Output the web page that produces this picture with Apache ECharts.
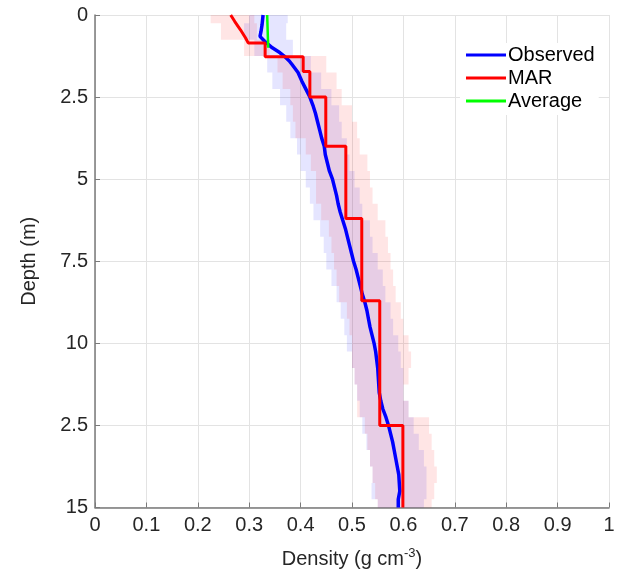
<!DOCTYPE html>
<html>
<head>
<meta charset="utf-8">
<script src="https://cdn.jsdelivr.net/npm/echarts@6/dist/echarts.min.js"></script>
<style>html,body{margin:0;padding:0;background:#fff;}#chart{width:622px;height:574px;}</style>
</head>
<body>
<div id="chart"></div>
<script>
// ---- Data ----
var xTickLabels = ['0','0.1','0.2','0.3','0.4','0.5','0.6','0.7','0.8','0.9','1'];
var yTickLabels = ['0','2.5','5','7.5','10','2.5','15'];

// Observed density profile
var obsDepth = [0,0.15,0.3,0.5,0.65,0.8,1.0,1.15,1.25,1.4,1.5,1.75,2.0,2.25,2.5,2.75,3.0,3.25,3.5,3.75,4.0,4.25,4.5,4.75,5.0,5.25,5.5,5.75,6.0,6.25,6.5,6.75,7.0,7.25,7.5,7.75,8.0,8.25,8.5,8.75,9.0,9.25,9.5,9.75,10.0,10.25,10.5,10.75,11.0,11.25,11.5,11.75,12.0,12.25,12.5,12.75,13.0,13.25,13.5,13.75,14.0,14.25,14.5,14.75,15.0];
var obsDens  = [0.327,0.326,0.325,0.323,0.321,0.330,0.345,0.360,0.368,0.378,0.383,0.395,0.402,0.410,0.418,0.424,0.429,0.433,0.437,0.441,0.446,0.448,0.452,0.456,0.462,0.466,0.470,0.473,0.477,0.482,0.487,0.491,0.495,0.499,0.503,0.508,0.512,0.516,0.520,0.525,0.529,0.532,0.535,0.539,0.543,0.546,0.548,0.550,0.551,0.552,0.553,0.556,0.560,0.566,0.571,0.575,0.579,0.582,0.585,0.588,0.591,0.592,0.593,0.590,0.590];

// MAR profile: top sloping part, then layers (bottom depth, density)
var marTopDepth = [0,0.2,0.45,0.7,0.85];
var marTopDens  = [0.264,0.272,0.283,0.293,0.298];
var marLayerBottom = [1.27,1.72,2.5,4.0,6.2,8.7,12.5,15];
var marLayerDens   = [0.331,0.405,0.418,0.449,0.488,0.519,0.554,0.599];

// Average (upper layer)
var avgDepth = [0,1.0];
var avgDens  = [0.335,0.337];

// Uncertainty envelopes, sampled every 0.5 m
var bandDepth = [0,0.5,1,1.5,2,2.5,3,3.5,4,4.5,5,5.5,6,6.5,7,7.5,8,8.5,9,9.5,10,10.5,11,11.5,12,12.5,13,13.5,14,14.5,15];
var obsLow  = [0.300,0.290,0.310,0.335,0.345,0.360,0.372,0.380,0.393,0.400,0.410,0.418,0.425,0.438,0.445,0.450,0.460,0.470,0.478,0.485,0.490,0.500,0.505,0.510,0.515,0.520,0.528,0.535,0.540,0.538,0.550];
var obsHigh = [0.375,0.372,0.385,0.420,0.440,0.460,0.475,0.480,0.490,0.495,0.505,0.515,0.520,0.535,0.540,0.550,0.560,0.565,0.575,0.580,0.590,0.595,0.600,0.600,0.610,0.620,0.630,0.640,0.645,0.645,0.640];
var marLow  = [0.225,0.245,0.290,0.355,0.365,0.380,0.385,0.390,0.410,0.420,0.430,0.430,0.440,0.455,0.460,0.465,0.470,0.475,0.490,0.495,0.500,0.500,0.505,0.510,0.510,0.525,0.530,0.535,0.540,0.545,0.550];
var marHigh = [0.310,0.315,0.340,0.450,0.470,0.480,0.500,0.510,0.515,0.530,0.535,0.540,0.550,0.565,0.570,0.575,0.580,0.585,0.595,0.600,0.610,0.615,0.610,0.600,0.610,0.650,0.655,0.660,0.665,0.660,0.655];

// ---- Build series data ----
function pairs(xs, ys){ return xs.map(function(x,i){ return [x, ys[i]]; }); }
var obsData = pairs(obsDens, obsDepth);
var avgData = pairs(avgDens, avgDepth);
var marData = pairs(marTopDens, marTopDepth);
var prevDepth = marTopDepth[marTopDepth.length-1];
for (var i = 0; i < marLayerDens.length; i++) {
  marData.push([marLayerDens[i], prevDepth]);
  marData.push([marLayerDens[i], marLayerBottom[i]]);
  prevDepth = marLayerBottom[i];
}

function bandSeries(low, high, color, z) {
  return {
    type: 'custom', silent: true, z: z,
    data: [[0, 0]],
    renderItem: function (params, api) {
      var n = bandDepth.length, pts = [];
      function top(i){ return Math.max(0, bandDepth[i] - 0.25); }
      function bot(i){ return Math.min(15, bandDepth[i] + 0.25); }
      for (var i = 0; i < n; i++) {
        pts.push(api.coord([high[i], top(i)]));
        pts.push(api.coord([high[i], bot(i)]));
      }
      for (var j = n - 1; j >= 0; j--) {
        pts.push(api.coord([low[j], bot(j)]));
        pts.push(api.coord([low[j], top(j)]));
      }
      return { type: 'polygon', shape: { points: pts }, style: { fill: color } };
    }
  };
}

var FONT = '"Liberation Sans", Arial, Helvetica, sans-serif';
var TXT = '#262626';

var chart = echarts.init(document.getElementById('chart'), null, { renderer: 'canvas' });
chart.setOption({
  animation: false,
  backgroundColor: '#ffffff',
  textStyle: { fontFamily: FONT },
  grid: { left: 95, right: 13, top: 15, bottom: 64, containLabel: false },
  legend: {
    data: ['Observed', 'MAR', 'Average'],
    orient: 'vertical',
    left: 460, top: 43,
    padding: [2, 4, 4, 6],
    backgroundColor: '#ffffff',
    itemWidth: 40, itemHeight: 3, itemGap: 3,
    icon: 'rect',
    textStyle: { fontSize: 20, color: '#000', fontFamily: FONT, padding: [0,0,0,-3] }
  },
  xAxis: {
    type: 'value', min: 0, max: 1, interval: 0.1,
    name: 'Density (g cm{sup|-3})',
    nameLocation: 'middle', nameGap: 39,
    nameTextStyle: { fontSize: 20, color: TXT, fontFamily: FONT,
      rich: { sup: { fontSize: 13, color: TXT, fontFamily: FONT, verticalAlign: 'top', padding: [0,0,12,0] } } },
    axisLine: { show: true, onZero: false, lineStyle: { color: '#7a7a7a', width: 1.5 } },
    axisTick: { show: true, inside: true, length: 5, lineStyle: { color: '#7a7a7a' } },
    axisLabel: { fontSize: 20, color: TXT, margin: 8, fontFamily: FONT,
      formatter: function (v) { return xTickLabels[Math.round(v * 10)]; } },
    splitLine: { show: true, lineStyle: { color: '#e3e3e3', width: 1 } }
  },
  yAxis: {
    type: 'value', min: 0, max: 15, interval: 2.5, inverse: true,
    name: 'Depth (m)',
    nameLocation: 'middle', nameGap: 56,
    nameTextStyle: { fontSize: 20, color: TXT, fontFamily: FONT },
    axisLine: { show: true, onZero: false, lineStyle: { color: '#7a7a7a', width: 1.5 } },
    axisTick: { show: true, inside: true, length: 5, lineStyle: { color: '#7a7a7a' } },
    axisLabel: { fontSize: 20, color: TXT, margin: 7, fontFamily: FONT,
      formatter: function (v) { return yTickLabels[Math.round(v / 2.5)]; } },
    splitLine: { show: true, lineStyle: { color: '#e3e3e3', width: 1 } }
  },
  series: [
    bandSeries(obsLow, obsHigh, 'rgba(0,0,255,0.10)', 1),
    bandSeries(marLow, marHigh, 'rgba(255,0,0,0.10)', 1),
    { name: 'Observed', type: 'line', data: obsData, showSymbol: false, z: 3,
      lineStyle: { color: '#0000ff', width: 3.5 }, itemStyle: { color: '#0000ff' } },
    { name: 'MAR', type: 'line', data: marData, showSymbol: false, z: 4,
      lineStyle: { color: '#ff0000', width: 3 }, itemStyle: { color: '#ff0000' } },
    { name: 'Average', type: 'line', data: avgData, showSymbol: false, z: 5,
      lineStyle: { color: '#00ff00', width: 2.5 }, itemStyle: { color: '#00ff00' } }
  ]
});
</script>
</body>
</html>
